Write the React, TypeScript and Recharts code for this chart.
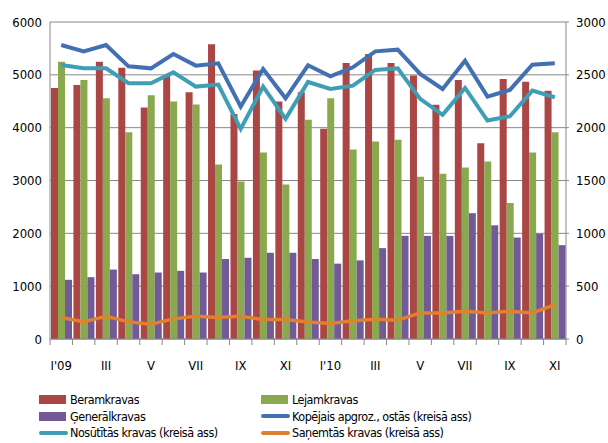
import React from "react"
import { Bar, CartesianGrid, ComposedChart, Line, XAxis, YAxis } from "recharts"

const months = ["I'09", "II", "III", "IV", "V", "VI", "VII", "VIII", "IX", "X", "XI", "XII",
  "I'10", "II", "III", "IV", "V", "VI", "VII", "VIII", "IX", "X", "XI"]

// bars: right axis
const beramkravas = [2376, 2404, 2625, 2568, 2190, 2490, 2335, 2789, 2130, 2540, 2247, 2335,
  1989, 2613, 2698, 2613, 2493, 2216, 2452, 1853, 2460, 2435, 2350]
const lejamkravas = [2625, 2452, 2278, 1957, 2307, 2247, 2219, 1651, 1491, 1765, 1462, 2074,
  2278, 1793, 1869, 1885, 1535, 1563, 1623, 1680, 1286, 1765, 1957]
const generalkravas = [560, 585, 657, 613, 629, 645, 629, 757, 769, 816, 816, 757,
  713, 744, 860, 976, 976, 976, 1191, 1076, 960, 997, 888]

// lines: left axis
const kopejais = [5565, 5444, 5565, 5161, 5123, 5395, 5174, 5218, 4399, 5111, 4556, 5180,
  4972, 5142, 5444, 5476, 5017, 4733, 5268, 4588, 4714, 5193, 5218]
const nosutitas = [5186, 5123, 5123, 4840, 4840, 5048, 4777, 4815, 3977, 4777, 4166, 4865,
  4733, 4796, 5092, 5123, 4544, 4242, 4752, 4134, 4216, 4701, 4575]
const sanemtas = [407, 325, 431, 325, 281, 381, 431, 407, 431, 369, 369, 322,
  294, 344, 375, 356, 494, 494, 525, 494, 525, 494, 650]

const leftTicks = [0, 1000, 2000, 3000, 4000, 5000, 6000]
const rightTicks = [0, 500, 1000, 1500, 2000, 2500, 3000]

const data = months.map((m, i) => ({
  month: m,
  beram: beramkravas[i],
  lejam: lejamkravas[i],
  general: generalkravas[i],
  kop: kopejais[i],
  nos: nosutitas[i],
  san: sanemtas[i],
}))

const RED = "#AA4643"
const GREEN = "#8AA94E"
const PURPLE = "#725A96"
const BLUE = "#4270B3"
const TEAL = "#3E9EB6"
const ORANGE = "#E0812F"
const AXIS = "#888888"
const FONT = "'DejaVu Sans Condensed', 'DejaVu Sans', sans-serif"

const W = 608
const H = 443
const PLOT_LEFT = 50
const PLOT_RIGHT = 566
const BAND = (PLOT_RIGHT - PLOT_LEFT) / months.length

function MonthTick(props: any) {
  const { x, y, payload, index } = props
  const axisY = y - 8
  const left = x - BAND / 2
  return (
    <g>
      <line x1={left} y1={axisY} x2={left} y2={axisY + 6} stroke={AXIS} />
      {index === months.length - 1 && (
        <line x1={left + BAND} y1={axisY} x2={left + BAND} y2={axisY + 6} stroke={AXIS} />
      )}
      {index % 2 === 0 && (
        <text x={x} y={axisY + 31} textAnchor="middle" fontSize={13} fill="#000" fontFamily={FONT}>
          {payload.value}
        </text>
      )}
    </g>
  )
}

const legendItems = [
  { label: "Beramkravas", color: RED, kind: "box" },
  { label: "Lejamkravas", color: GREEN, kind: "box" },
  { label: "Ģenerālkravas", color: PURPLE, kind: "box" },
  { label: "Kopējais apgroz., ostās (kreisā ass)", color: BLUE, kind: "line" },
  { label: "Nosūtītās kravas (kreisā ass)", color: TEAL, kind: "line" },
  { label: "Saņemtās kravas (kreisā ass)", color: ORANGE, kind: "line" },
]

function LegendBlock() {
  return (
    <div style={{ position: "absolute", left: 39, top: 391, width: 560, fontFamily: FONT, fontSize: 12.5, letterSpacing: -0.5 }}>
      {legendItems.map((it, i) => (
        <div
          key={it.label}
          style={{
            position: "absolute",
            left: i % 2 === 0 ? 0 : 222,
            top: Math.floor(i / 2) * 16.5,
            display: "flex",
            alignItems: "center",
            height: 17,
            whiteSpace: "nowrap",
          }}
        >
          {it.kind === "box" ? (
            <span style={{ display: "inline-block", width: 27, height: 9, background: it.color, marginRight: 4 }} />
          ) : (
            <span style={{ display: "inline-block", width: 29, height: 4, borderRadius: 2, background: it.color, marginRight: 2 }} />
          )}
          <span>{it.label}</span>
        </div>
      ))}
    </div>
  )
}

export default function App() {
  return (
    <div style={{ position: "absolute", left: 0, top: 0, width: W, height: H, background: "#fff" }}>
      <ComposedChart
        width={W}
        height={H}
        data={data}
        margin={{ top: 22, right: 0, left: 0, bottom: 74 }}
        barCategoryGap={1}
        barGap={0}
      >
        <CartesianGrid yAxisId="left" vertical={false} stroke={AXIS} />
        <XAxis
          dataKey="month"
          interval={0}
          height={30}
          axisLine={{ stroke: AXIS }}
          tickLine={false}
          tick={<MonthTick />}
        />
        <YAxis
          yAxisId="left"
          domain={[0, 6000]}
          ticks={leftTicks}
          width={50}
          axisLine={{ stroke: AXIS }}
          tickLine={false}
          tick={{ fill: "#000", fontSize: 13, fontFamily: FONT }}
        />
        <YAxis
          yAxisId="right"
          orientation="right"
          domain={[0, 3000]}
          ticks={rightTicks}
          width={W - PLOT_RIGHT}
          axisLine={{ stroke: AXIS }}
          tickLine={{ stroke: AXIS }}
          tickSize={3}
          tickMargin={7}
          tick={{ fill: "#000", fontSize: 13, fontFamily: FONT, textAnchor: "start" }}
        />
        <Bar yAxisId="right" dataKey="beram" fill={RED} isAnimationActive={false} />
        <Bar yAxisId="right" dataKey="lejam" fill={GREEN} isAnimationActive={false} />
        <Bar yAxisId="right" dataKey="general" fill={PURPLE} isAnimationActive={false} />
        <Line yAxisId="left" dataKey="san" stroke={ORANGE} strokeWidth={3.5} dot={false} isAnimationActive={false} />
        <Line yAxisId="left" dataKey="nos" stroke={TEAL} strokeWidth={4} dot={false} isAnimationActive={false} />
        <Line yAxisId="left" dataKey="kop" stroke={BLUE} strokeWidth={4} dot={false} isAnimationActive={false} />
      </ComposedChart>
      <LegendBlock />
    </div>
  )
}
